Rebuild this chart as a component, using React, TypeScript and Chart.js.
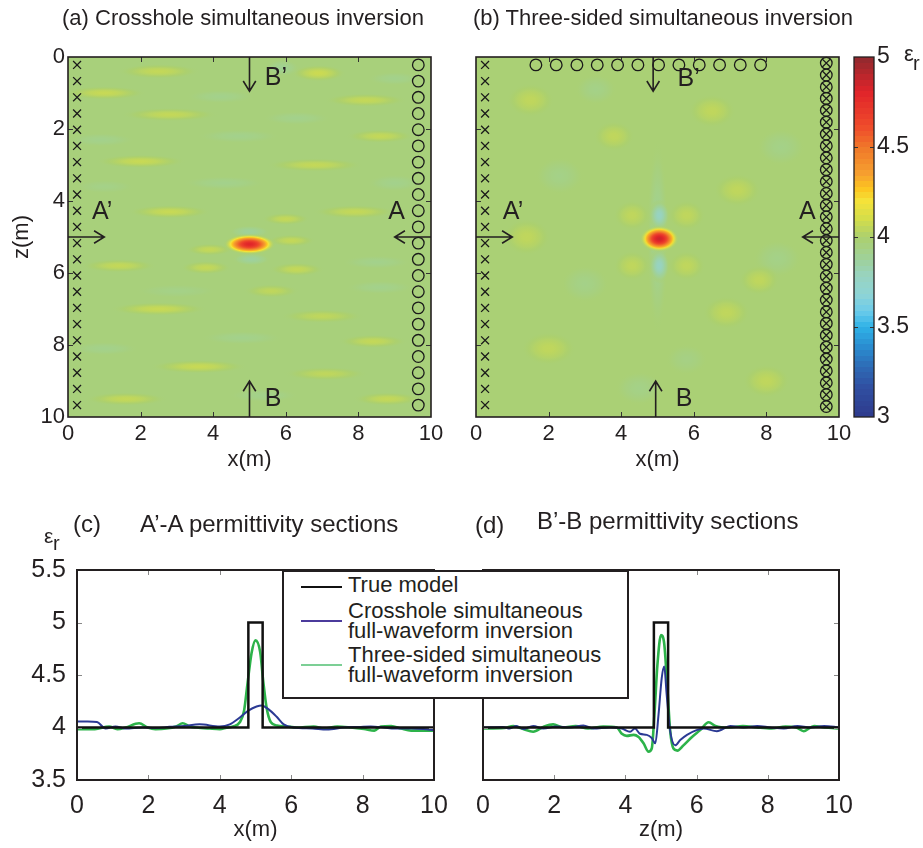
import React, { useEffect, useRef } from "react";
import { Chart, registerables } from "chart.js";

Chart.register(...registerables);

const FONT = "'Liberation Sans', Arial, Helvetica, sans-serif";
const INK = "#231f20";

// ---------- colour scale for relative permittivity ----------
const CMAP_VALUES = [3.0, 3.17, 3.28, 3.39, 3.5, 3.59, 3.68, 3.79, 3.88, 4.0, 4.1, 4.2, 4.27, 4.35, 4.49, 4.62, 4.81, 5.0];
const CMAP_COLORS = [
  "#2e3a8c", "#3050a2", "#2e6bb5", "#2a8cd0", "#2fb1e6", "#6bcbeb", "#8ed4d6", "#98d3bf", "#9fd19a",
  "#acd06e", "#d3dd4b", "#f5e33a", "#fcc520", "#f6a12f", "#f07a2a", "#ef4a2b", "#e0232a", "#8f2a2e",
];
const COLORBAR_MIN = 3;
const COLORBAR_MAX = 5;
const COLORBAR_LEVELS = 64;

// ---------- acquisition geometry (m) ----------
const BOREHOLE_Z = [0.22, 0.67, 1.12, 1.57, 2.02, 2.47, 2.92, 3.37, 3.82, 4.27, 4.72, 5.17, 5.62, 6.07, 6.52, 6.97, 7.42, 7.87, 8.32, 8.77, 9.22, 9.67];
const SOURCE_X = 0.25;
const RECEIVER_X = 9.65;
const SURFACE_RX_X = [1.65, 2.21, 2.78, 3.34, 3.9, 4.46, 5.03, 5.59, 6.15, 6.71, 7.28, 7.84];
const SURFACE_RX_Z = 0.22;
const DENSE_Z = [0.17, 0.5, 0.83, 1.15, 1.48, 1.81, 2.14, 2.47, 2.8, 3.13, 3.46, 3.79, 4.12, 4.44, 4.77, 5.1, 5.43, 5.76, 6.09, 6.42, 6.75, 7.08, 7.4, 7.73, 8.06, 8.39, 8.72, 9.05, 9.38, 9.71];

// ---------- inverted εr models: background plus local features ----------
// each feature: [x (m), z (m), half-width in x (m), half-width in z (m), peak εr]
const CROSSHOLE_BACKGROUND = 3.965;
const CROSSHOLE_FEATURES = [
  [2.5, 0.4, 1.2, 0.22, 4.06], [6.9, 0.45, 0.8, 0.25, 4.08], [5.9, 0.3, 0.5, 0.25, 3.9], [9.0, 0.6, 0.8, 0.2, 3.92],
  [1.0, 1.0, 1.2, 0.2, 4.07], [4.2, 1.1, 1.0, 0.2, 3.92], [8.2, 1.2, 1.2, 0.2, 4.06],
  [2.8, 1.6, 1.4, 0.2, 4.06], [6.3, 1.7, 1.0, 0.2, 3.92],
  [0.9, 2.3, 1.0, 0.2, 3.92], [4.7, 2.2, 1.2, 0.2, 3.92], [8.6, 2.2, 1.0, 0.2, 4.06],
  [2.0, 2.9, 1.3, 0.2, 4.07], [6.8, 3.0, 1.4, 0.2, 4.06],
  [4.3, 3.5, 1.2, 0.2, 3.92], [9.0, 3.5, 0.8, 0.25, 3.92], [1.0, 3.6, 0.9, 0.2, 3.93],
  [2.8, 4.3, 1.2, 0.2, 4.07], [7.9, 4.3, 1.2, 0.2, 4.06],
  [1.4, 5.8, 1.1, 0.2, 4.06], [8.5, 5.7, 1.0, 0.2, 3.92],
  [3.0, 6.5, 1.2, 0.2, 3.93], [8.6, 6.4, 1.0, 0.2, 3.92], [5.6, 6.5, 0.8, 0.2, 4.05],
  [2.5, 7.0, 1.4, 0.2, 4.07], [7.0, 7.2, 1.2, 0.2, 4.05],
  [4.8, 7.8, 1.2, 0.2, 3.92], [1.0, 8.1, 1.0, 0.2, 3.92], [8.4, 7.9, 1.0, 0.2, 4.06],
  [3.6, 8.6, 1.4, 0.2, 4.07], [7.1, 8.8, 1.2, 0.2, 4.05],
  [1.6, 9.5, 1.2, 0.2, 4.06], [5.4, 9.4, 1.0, 0.2, 3.92], [8.8, 9.5, 1.0, 0.2, 4.06],
  [3.9, 5.35, 0.7, 0.18, 4.06], [6.15, 5.1, 0.7, 0.18, 4.06], [6.3, 5.9, 0.8, 0.2, 4.06], [3.8, 5.85, 0.75, 0.2, 4.06],
  [6.0, 4.5, 0.7, 0.18, 4.06], [5.0, 4.85, 0.6, 0.18, 3.88], [5.05, 5.62, 0.55, 0.18, 3.87],
  [5.0, 5.2, 0.76, 0.3, 4.8],
];
const THREESIDED_BACKGROUND = 3.98;
const THREESIDED_FEATURES = [
  [1.5, 1.2, 0.7, 0.5, 4.05], [3.3, 0.9, 0.6, 0.45, 3.93], [6.5, 1.5, 0.7, 0.5, 4.05], [8.4, 2.5, 0.7, 0.55, 3.93],
  [2.3, 3.3, 0.7, 0.55, 3.93], [7.2, 3.7, 0.7, 0.5, 4.05], [1.4, 5.0, 0.7, 0.55, 4.05], [8.3, 5.6, 0.7, 0.55, 3.93],
  [3.0, 6.3, 0.7, 0.55, 3.93], [6.9, 7.1, 0.7, 0.5, 4.05], [2.0, 8.1, 0.8, 0.5, 4.05], [4.5, 9.2, 0.7, 0.5, 3.93],
  [8.0, 9.0, 0.7, 0.5, 4.05], [3.8, 2.2, 0.6, 0.45, 4.05], [5.8, 8.4, 0.6, 0.45, 3.94], [7.8, 6.2, 0.6, 0.45, 4.05],
  [5.0, 5.0, 0.3, 2.8, 3.9],
  [4.3, 4.4, 0.55, 0.45, 4.05], [5.8, 4.4, 0.55, 0.45, 4.05], [4.3, 5.8, 0.55, 0.45, 4.05], [5.8, 5.8, 0.55, 0.45, 4.05],
  [5.05, 4.4, 0.3, 0.45, 3.78], [5.05, 5.8, 0.3, 0.5, 3.78],
  [5.05, 5.05, 0.56, 0.38, 4.86],
];

// ---------- εr sections ----------
const TRUE_X = [0, 4.8, 4.8, 5.2, 5.2, 10];
const TRUE_EPS = [4, 4, 5, 5, 4, 4];

const CROSSHOLE_AA_X = [0, 0.3, 0.56, 0.8, 1.08, 1.36, 1.83, 2.2, 2.59, 3.0, 3.43, 4.0, 4.28, 4.56, 4.8, 5.03, 5.17, 5.36, 5.6, 5.79, 6.07, 6.6, 7.0, 7.48, 7.9, 8.23, 8.6, 8.89, 9.36, 9.7, 10];
const CROSSHOLE_AA = [4.057, 4.057, 4.052, 3.99, 4.01, 3.99, 4.0, 3.995, 4.006, 4.015, 4.03, 4.01, 4.03, 4.095, 4.16, 4.2, 4.21, 4.175, 4.1, 4.03, 4.0, 3.99, 3.98, 4.0, 4.005, 4.01, 4.0, 3.99, 3.99, 3.985, 3.975];

const THREESIDED_AA_X = [0, 0.5, 0.9, 1.13, 1.36, 1.74, 1.98, 2.2, 2.5, 2.78, 2.96, 3.15, 3.34, 3.72, 4.0, 4.19, 4.37, 4.56, 4.68, 4.78, 4.89, 5.0, 5.13, 5.22, 5.31, 5.43, 5.6, 5.88, 6.16, 6.63, 6.92, 7.29, 7.67, 8.04, 8.33, 8.51, 8.8, 9.08, 9.36, 10];
const THREESIDED_AA = [3.985, 3.985, 4.01, 3.985, 4.0, 4.04, 4.0, 3.985, 3.99, 4.01, 4.04, 4.01, 4.0, 3.99, 3.985, 3.998, 4.01, 4.05, 4.16, 4.43, 4.71, 4.83, 4.72, 4.43, 4.19, 4.05, 4.02, 4.01, 4.0, 4.01, 3.99, 4.01, 4.0, 3.985, 3.97, 4.01, 4.015, 3.99, 3.97, 3.97];

const CROSSHOLE_BB_X = [0, 0.56, 0.75, 0.94, 1.13, 1.41, 1.69, 2.07, 2.44, 2.82, 3.1, 3.57, 3.9, 4.13, 4.27, 4.41, 4.6, 4.74, 4.84, 4.93, 5.02, 5.09, 5.16, 5.26, 5.4, 5.54, 5.73, 6.0, 6.2, 6.57, 6.95, 7.32, 7.7, 8.08, 8.45, 8.83, 9.2, 9.58, 10];
const CROSSHOLE_BB = [4.0, 4.005, 3.99, 4.015, 3.985, 4.015, 3.99, 4.01, 4.0, 4.02, 3.99, 4.0, 3.99, 3.96, 3.99, 3.94, 3.93, 3.9, 3.85, 4.12, 4.47, 4.58, 4.31, 3.96, 3.83, 3.88, 3.93, 3.975, 3.99, 3.965, 4.015, 4.0, 4.015, 4.0, 3.99, 4.015, 4.0, 4.015, 4.0];

const THREESIDED_BB_X = [0, 0.6, 0.85, 1.13, 1.41, 1.69, 1.97, 2.25, 2.6, 2.95, 3.38, 3.76, 3.9, 4.04, 4.23, 4.37, 4.51, 4.65, 4.74, 4.82, 4.9, 5.0, 5.09, 5.18, 5.26, 5.35, 5.46, 5.63, 5.87, 6.1, 6.34, 6.53, 6.9, 7.3, 7.7, 8.1, 8.5, 8.8, 9.01, 9.3, 9.6, 10];
const THREESIDED_BB = [3.99, 3.995, 4.015, 3.985, 3.96, 4.005, 4.03, 4.0, 4.015, 3.99, 4.01, 4.0, 3.94, 3.92, 3.93, 3.91, 3.85, 3.77, 3.8, 4.15, 4.6, 4.88, 4.8, 4.37, 3.96, 3.8, 3.78, 3.83, 3.91, 3.975, 4.05, 4.015, 4.0, 4.015, 4.0, 3.99, 4.01, 4.0, 3.965, 4.015, 4.0, 3.99];

const LINE_TRUE = "#111111";
const LINE_CROSSHOLE = "#2b3a94";
const LINE_THREESIDED = "#2db34a";

// ---------- colormap lookup ----------
const CMAP_RGB = CMAP_COLORS.map((h) => [parseInt(h.slice(1, 3), 16), parseInt(h.slice(3, 5), 16), parseInt(h.slice(5, 7), 16)]);
function cmap(v: number): number[] {
  if (v <= CMAP_VALUES[0]) return CMAP_RGB[0];
  for (let i = 0; i < CMAP_VALUES.length - 1; i++) {
    if (v <= CMAP_VALUES[i + 1]) {
      const t = (v - CMAP_VALUES[i]) / (CMAP_VALUES[i + 1] - CMAP_VALUES[i]);
      return CMAP_RGB[i].map((c, k) => Math.round(c + (CMAP_RGB[i + 1][k] - c) * t));
    }
  }
  return CMAP_RGB[CMAP_RGB.length - 1];
}
const rgba = (c: number[], a = 1) => `rgba(${c[0]},${c[1]},${c[2]},${a})`;
const plainNumber = (v: any) => `${+v}`;

// ---------- plugins ----------
const fieldPlugin = {
  id: "field",
  beforeDatasetsDraw(chart: any, _args: any, opts: any) {
    const { ctx, chartArea: a, scales } = chart;
    const xs = scales.x, ys = scales.y;
    ctx.save();
    ctx.beginPath();
    ctx.rect(a.left, a.top, a.right - a.left, a.bottom - a.top);
    ctx.clip();
    ctx.fillStyle = rgba(cmap(opts.background));
    ctx.fillRect(a.left, a.top, a.right - a.left, a.bottom - a.top);
    for (const [cx, cz, hx, hz, peak] of opts.features) {
      const px = xs.getPixelForValue(cx);
      const pz = ys.getPixelForValue(cz);
      const sx = Math.abs(xs.getPixelForValue(cx + hx) - px);
      const sz = Math.abs(ys.getPixelForValue(cz + hz) - pz);
      ctx.save();
      ctx.translate(px, pz);
      ctx.scale(sx, sz);
      const g = ctx.createRadialGradient(0, 0, 0, 0, 0, 1);
      for (let i = 0; i <= 16; i++) {
        const t = i / 16;
        const w = (1 - t * t) * (1 - t * t);
        const val = opts.background + (peak - opts.background) * w;
        g.addColorStop(t, rgba(cmap(val), Math.min(1, (1 - t) / 0.3)));
      }
      ctx.fillStyle = g;
      ctx.beginPath();
      ctx.arc(0, 0, 1, 0, Math.PI * 2);
      ctx.fill();
      ctx.restore();
    }
    ctx.restore();
  },
};

const framePlugin = {
  id: "frame",
  afterDatasetsDraw(chart: any, _args: any, opts: any) {
    const { ctx, chartArea: a, scales } = chart;
    ctx.save();
    ctx.strokeStyle = opts.tickColor || INK;
    ctx.lineWidth = 1;
    const L = opts.tickLen || 5;
    const xs = scales.x, ys = scales.y;
    if (xs && xs.options.display !== false) {
      for (const t of xs.ticks) {
        if (t.value <= xs.min || t.value >= xs.max) continue;
        const p = Math.round(xs.getPixelForValue(t.value)) + 0.5;
        ctx.beginPath();
        ctx.moveTo(p, a.bottom); ctx.lineTo(p, a.bottom - L);
        ctx.moveTo(p, a.top); ctx.lineTo(p, a.top + L);
        ctx.stroke();
      }
    }
    for (const t of ys.ticks) {
      if (t.value <= ys.min || t.value >= ys.max) continue;
      const p = Math.round(ys.getPixelForValue(t.value)) + 0.5;
      ctx.beginPath();
      ctx.moveTo(a.left, p); ctx.lineTo(a.left + L, p);
      ctx.moveTo(a.right, p); ctx.lineTo(a.right - L, p);
      ctx.stroke();
    }
    ctx.strokeStyle = INK;
    ctx.lineWidth = opts.lineWidth || 1.5;
    ctx.strokeRect(a.left, a.top, a.right - a.left, a.bottom - a.top);
    ctx.restore();
  },
};

const annotationPlugin = {
  id: "annot",
  afterDatasetsDraw(chart: any, _args: any, opts: any) {
    const { ctx, scales } = chart;
    const xs = scales.x, ys = scales.y;
    ctx.save();
    ctx.strokeStyle = INK;
    ctx.fillStyle = INK;
    ctx.lineWidth = 1.6;
    for (const [x1, z1, x2, z2] of opts.arrows) {
      const ax = xs.getPixelForValue(x1), ay = ys.getPixelForValue(z1);
      const bx = xs.getPixelForValue(x2), by = ys.getPixelForValue(z2);
      const ang = Math.atan2(by - ay, bx - ax);
      const L = 12, spread = 0.55;
      ctx.beginPath();
      ctx.moveTo(ax, ay); ctx.lineTo(bx, by);
      ctx.moveTo(bx - L * Math.cos(ang - spread), by - L * Math.sin(ang - spread));
      ctx.lineTo(bx, by);
      ctx.lineTo(bx - L * Math.cos(ang + spread), by - L * Math.sin(ang + spread));
      ctx.stroke();
    }
    ctx.font = `25px ${FONT}`;
    ctx.textAlign = "left";
    ctx.textBaseline = "middle";
    for (const [text, lx, lz] of opts.labels) ctx.fillText(text, xs.getPixelForValue(lx), ys.getPixelForValue(lz));
    ctx.restore();
  },
};

const colorbarPlugin = {
  id: "colorbar",
  beforeDatasetsDraw(chart: any) {
    const { ctx, chartArea: a, scales } = chart;
    const ys = scales.y;
    const step = (COLORBAR_MAX - COLORBAR_MIN) / COLORBAR_LEVELS;
    for (let k = 0; k < COLORBAR_LEVELS; k++) {
      const v0 = COLORBAR_MIN + k * step;
      const p0 = ys.getPixelForValue(v0), p1 = ys.getPixelForValue(v0 + step);
      ctx.fillStyle = rgba(cmap(v0 + step / 2));
      ctx.fillRect(a.left, Math.floor(p1), a.right - a.left, Math.ceil(p0) - Math.floor(p1));
    }
  },
};

// ---------- chart builders ----------
const mapTickFont = { size: 22, family: FONT };
const sectionTickFont = { size: 25, family: FONT };
const titleFont = { size: 22, family: FONT, lineHeight: 1 };
const pts = (xs: number[], ys: number[]) => xs.map((x, i) => ({ x, y: ys[i] }));

const markerX = (data: any[]) => ({ data, pointStyle: "crossRot", pointRadius: 5.6, borderColor: "#1a1a1a", borderWidth: 1.3, backgroundColor: "transparent" });
const markerO = (data: any[]) => ({ data, pointStyle: "circle", pointRadius: 5.8, borderColor: "#1a1a1a", borderWidth: 1.3, backgroundColor: "transparent" });

function mapConfig(opts: any) {
  const { height, left, right, width, showY, datasets, background, features, arrows, labels } = opts;
  return {
    type: "scatter",
    data: { datasets: datasets.map((d: any) => ({ ...d, clip: false })) },
    options: {
      animation: false,
      responsive: false,
      devicePixelRatio: 1,
      events: [],
      layout: { padding: { left: 0, top: 57, right: width - right, bottom: 0 } },
      plugins: {
        legend: { display: false },
        tooltip: { enabled: false },
        field: { background, features },
        frame: { tickLen: 5, tickColor: "#333", lineWidth: 1.6 },
        annot: { arrows, labels },
      },
      scales: {
        x: {
          type: "linear", min: 0, max: 10,
          ticks: { stepSize: 2, autoSkip: false, maxRotation: 0, padding: 4, color: INK, font: mapTickFont, callback: plainNumber },
          grid: { display: false, drawTicks: false },
          border: { display: false },
          title: { display: true, text: "x(m)", color: INK, font: titleFont, padding: { top: 0, bottom: 4 } },
          afterFit: (s: any) => { s.height = height - 417; },
        },
        y: {
          type: "linear", min: 0, max: 10, reverse: true,
          ticks: { display: showY, stepSize: 2, autoSkip: false, padding: 3, color: INK, font: mapTickFont, callback: plainNumber },
          grid: { display: false, drawTicks: false },
          border: { display: false },
          title: { display: showY, text: "z(m)", color: INK, font: titleFont, padding: { top: 11, bottom: 0 } },
          afterFit: (s: any) => { s.width = left; },
        },
      },
    },
    plugins: [fieldPlugin, framePlugin, annotationPlugin],
  };
}

function sectionConfig(opts: any) {
  const { width, height, left, right, showY, axisTitle, crosshole, threesided } = opts;
  return {
    type: "line",
    data: {
      datasets: [
        { label: "True model", data: pts(TRUE_X, TRUE_EPS), borderColor: LINE_TRUE, borderWidth: 2.5, pointRadius: 0, tension: 0 },
        { label: "Crosshole simultaneous full-waveform inversion", data: crosshole, borderColor: LINE_CROSSHOLE, borderWidth: 2, pointRadius: 0, cubicInterpolationMode: "monotone" },
        { label: "Three-sided simultaneous full-waveform inversion", data: threesided, borderColor: LINE_THREESIDED, borderWidth: 2.6, pointRadius: 0, cubicInterpolationMode: "monotone" },
      ],
    },
    options: {
      animation: false,
      responsive: false,
      devicePixelRatio: 1,
      events: [],
      layout: { padding: { left: 0, top: 80, right: width - right, bottom: 0 } },
      plugins: {
        legend: { display: false },
        tooltip: { enabled: false },
        frame: { tickLen: 5, tickColor: "#888", lineWidth: 2 },
      },
      scales: {
        x: {
          type: "linear", min: 0, max: 10,
          ticks: { stepSize: 2, autoSkip: false, maxRotation: 0, padding: 11, color: INK, font: sectionTickFont, callback: plainNumber },
          grid: { display: false, drawTicks: false },
          border: { display: false },
          title: { display: true, text: axisTitle, color: INK, font: titleFont, padding: { top: 0, bottom: 7 } },
          afterFit: (s: any) => { s.height = height - 290; },
        },
        y: {
          type: "linear", min: 3.5, max: 5.5,
          ticks: { display: showY, stepSize: 0.5, autoSkip: false, padding: 11, color: INK, font: sectionTickFont, callback: plainNumber },
          grid: { display: false, drawTicks: false },
          border: { display: false },
          afterFit: (s: any) => { s.width = left; },
        },
      },
    },
    plugins: [framePlugin],
  };
}

function colorbarConfig() {
  return {
    type: "scatter",
    data: { datasets: [] },
    options: {
      animation: false,
      responsive: false,
      devicePixelRatio: 1,
      events: [],
      layout: { padding: { left: 14, top: 57, right: 0, bottom: 58 } },
      plugins: { legend: { display: false }, tooltip: { enabled: false }, frame: { tickLen: 4, tickColor: "#333", lineWidth: 1.3 } },
      scales: {
        x: { display: false, min: 0, max: 1 },
        y: {
          type: "linear", position: "right", min: COLORBAR_MIN, max: COLORBAR_MAX,
          ticks: { stepSize: 0.5, autoSkip: false, padding: 3, color: INK, font: { size: 23, family: FONT }, callback: plainNumber },
          grid: { display: false, drawTicks: false },
          border: { display: false },
          afterFit: (s: any) => { s.width = 49; },
        },
      },
    },
    plugins: [colorbarPlugin, framePlugin],
  };
}

// ---------- panels ----------
const crossholeMap = () =>
  mapConfig({
    width: 460, height: 475, left: 68, right: 431, showY: true,
    background: CROSSHOLE_BACKGROUND, features: CROSSHOLE_FEATURES,
    datasets: [
      markerX(BOREHOLE_Z.map((z) => ({ x: SOURCE_X, y: z }))),
      markerO(BOREHOLE_Z.map((z) => ({ x: RECEIVER_X, y: z }))),
    ],
    arrows: [[5.0, 0, 5.0, 0.95], [5.0, 10, 5.0, 9.0], [0, 5.0, 1.0, 5.0], [10, 5.0, 9.0, 5.0]],
    labels: [["B’", 5.42, 0.6], ["B", 5.42, 9.5], ["A’", 0.66, 4.32], ["A", 8.82, 4.32]],
  });

const threeSidedMap = () =>
  mapConfig({
    width: 400, height: 475, left: 16, right: 379, showY: false,
    background: THREESIDED_BACKGROUND, features: THREESIDED_FEATURES,
    datasets: [
      markerX(BOREHOLE_Z.map((z) => ({ x: SOURCE_X, y: z }))),
      markerO(SURFACE_RX_X.map((x) => ({ x, y: SURFACE_RX_Z }))),
      markerO(DENSE_Z.map((z) => ({ x: RECEIVER_X, y: z }))),
      markerX(DENSE_Z.map((z) => ({ x: RECEIVER_X, y: z }))),
    ],
    arrows: [[4.88, 0, 4.88, 0.95], [4.95, 10, 4.95, 9.0], [0, 5.0, 1.0, 5.0], [10, 5.0, 9.0, 5.0]],
    labels: [["B’", 5.55, 0.62], ["B", 5.5, 9.5], ["A’", 0.74, 4.32], ["A", 8.9, 4.32]],
  });

const sectionAA = () =>
  sectionConfig({
    width: 460, height: 358, left: 77, right: 434, showY: true, axisTitle: "x(m)",
    crosshole: pts(CROSSHOLE_AA_X, CROSSHOLE_AA), threesided: pts(THREESIDED_AA_X, THREESIDED_AA),
  });

const sectionBB = () =>
  sectionConfig({
    width: 463, height: 358, left: 23, right: 379, showY: false, axisTitle: "z(m)",
    crosshole: pts(CROSSHOLE_BB_X, CROSSHOLE_BB), threesided: pts(THREESIDED_BB_X, THREESIDED_BB),
  });

function ChartBox({ left, top, width, height, build }: any) {
  const ref = useRef<HTMLCanvasElement>(null);
  useEffect(() => {
    const chart = new Chart(ref.current as HTMLCanvasElement, build() as any);
    return () => chart.destroy();
  }, [build]);
  return <canvas ref={ref} width={width} height={height} style={{ position: "absolute", left, top, width, height }} />;
}

function Txt({ left, top, size = 22, children }: any) {
  return (
    <div style={{ position: "absolute", left, top, fontSize: size, lineHeight: 1, whiteSpace: "nowrap", color: INK, fontFamily: FONT }}>
      {children}
    </div>
  );
}

export default function App() {
  return (
    <div style={{ position: "absolute", left: 0, top: 0, width: 923, height: 848, background: "#fff", overflow: "hidden", fontFamily: FONT }}>
      <ChartBox left={0} top={0} width={460} height={475} build={crossholeMap} />
      <ChartBox left={460} top={0} width={400} height={475} build={threeSidedMap} />
      <ChartBox left={840} top={0} width={83} height={475} build={colorbarConfig} />
      <ChartBox left={0} top={490} width={460} height={358} build={sectionAA} />
      <ChartBox left={460} top={490} width={463} height={358} build={sectionBB} />

      <Txt left={62} top={7}>(a) Crosshole simultaneous inversion</Txt>
      <Txt left={473} top={7}>(b) Three-sided simultaneous inversion</Txt>
      <Txt left={904} top={43}>ε</Txt>
      <Txt left={913} top={53} size={20}>r</Txt>

      <Txt left={44} top={525} size={21}>ε</Txt>
      <Txt left={53} top={533} size={20}>r</Txt>
      <Txt left={73} top={512} size={24}>(c)</Txt>
      <Txt left={140} top={512} size={24}>A’-A permittivity sections</Txt>
      <Txt left={475} top={513} size={24}>(d)</Txt>
      <Txt left={537} top={509} size={24}>B’-B permittivity sections</Txt>

      <div style={{ position: "absolute", left: 282, top: 570, width: 347, height: 129, border: `2px solid ${INK}`, boxSizing: "border-box", background: "#fff" }} />
      <div style={{ position: "absolute", left: 301, top: 586, width: 41, height: 2, background: LINE_TRUE }} />
      <div style={{ position: "absolute", left: 301, top: 620, width: 41, height: 2, background: "#4b3b9c" }} />
      <div style={{ position: "absolute", left: 301, top: 664, width: 41, height: 2, background: "#7ccf95" }} />
      <Txt left={348} top={574}>True model</Txt>
      <Txt left={348} top={600}>Crosshole simultaneous</Txt>
      <Txt left={348} top={620}>full-waveform inversion</Txt>
      <Txt left={348} top={644}>Three-sided simultaneous</Txt>
      <Txt left={348} top={664}>full-waveform inversion</Txt>
    </div>
  );
}
